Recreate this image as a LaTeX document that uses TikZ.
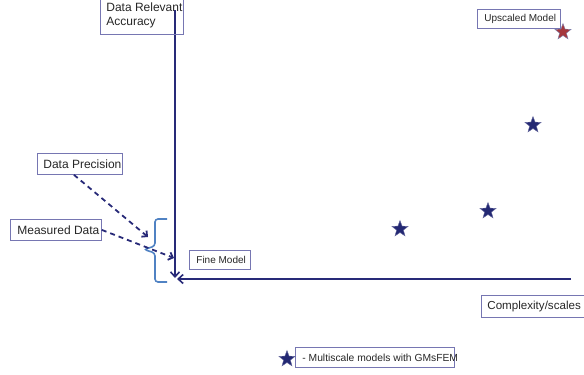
\documentclass[tikz,border=0pt]{standalone}
\usepackage{fontspec}
\setmainfont{Liberation Sans}
\usetikzlibrary{shapes.geometric,arrows.meta}
\definecolor{navy}{RGB}{40,42,120}
\definecolor{boxc}{RGB}{118,118,178}
\definecolor{bracec}{RGB}{80,130,195}
\definecolor{starred}{RGB}{165,55,60}
\definecolor{stardark}{RGB}{35,40,115}
\begin{document}
\begin{tikzpicture}[x=1pt,y=-1pt,
 lbl/.style={draw=boxc, line width=0.8pt, rectangle, inner sep=0pt, anchor=north west, text=black!85},
 axis/.style={draw=navy, line width=2pt, -{Straight Barb[length=5pt,width=9pt,line width=1.6pt]}},
 dasharrow/.style={draw=navy, line width=1.8pt, dash pattern=on 5pt off 4pt, -{Straight Barb[length=4pt,width=8pt]}},
 mstar/.style={star, star points=5, star point ratio=2.4, minimum size=17pt, inner sep=0pt, fill=stardark, draw=stardark!70, line width=0.4pt},
 bigt/.style={font=\fontsize{12}{14}\selectfont},
 smallt/.style={font=\fontsize{10}{12}\selectfont}]
\useasboundingbox (0,0) rectangle (584,375);
\clip (0,0) rectangle (584,375);

% axes
\coordinate (ytop) at (175,10);
\coordinate (oy) at (175,278);
\coordinate (xend) at (571,279);
\coordinate (ox) at (177,279);
\draw[axis] (ytop) -- (oy);
\draw[axis] (xend) -- (ox);

% labels
\node[lbl, bigt, minimum width=83pt, minimum height=38pt] (dra) at (100,-4)
  {\makebox[71pt][l]{\begin{tabular}{@{}l@{}}Data Relevant\\Accuracy\end{tabular}}};
\node[lbl, bigt, minimum width=85pt, minimum height=21pt] (dp) at (37,153)
  {\makebox[73pt][l]{Data Precision}};
\node[lbl, bigt, minimum width=91pt, minimum height=21pt] (md) at (10,219)
  {\makebox[77pt][l]{Measured Data}};
\node[lbl, smallt, minimum width=61pt, minimum height=19pt] (fm) at (189,250)
  {\makebox[47pt][l]{Fine Model}};
\node[lbl, smallt, minimum width=83pt, minimum height=19pt] (up) at (477,9)
  {\makebox[69pt][l]{Upscaled Model}};
\node[lbl, font=\fontsize{11.6}{13}\selectfont, minimum width=110pt, minimum height=22pt] (cx) at (481,295)
  {\makebox[98pt][l]{Complexity/scales}};
\node[lbl, font=\fontsize{10.3}{12}\selectfont, minimum width=159pt, minimum height=20pt] (ms) at (295,347)
  {\makebox[145pt][l]{- Multiscale models with GMsFEM}};

% brace
\draw[bracec, line width=1.6pt, rounded corners=3pt]
  (167,219) -- (155,219) -- (155,246) -- (144,249.5) -- (155,253) -- (155,282) -- (167,282);

% dashed arrows
\coordinate (dpend) at (148,237);
\coordinate (mdend) at (174,258);
\draw[dasharrow] ([xshift=-6pt]dp.south) -- (dpend);
\draw[dasharrow] (md.east) -- (mdend);

% stars
\node[mstar, fill=starred, draw=stardark!60] (s0) at (563,32) {};
\node[mstar] (s1) at (533,125) {};
\node[mstar] (s2) at (488,211) {};
\node[mstar] (s3) at (400,229) {};
\node[mstar] (s4) at (287,359) {};
\end{tikzpicture}
\end{document}
